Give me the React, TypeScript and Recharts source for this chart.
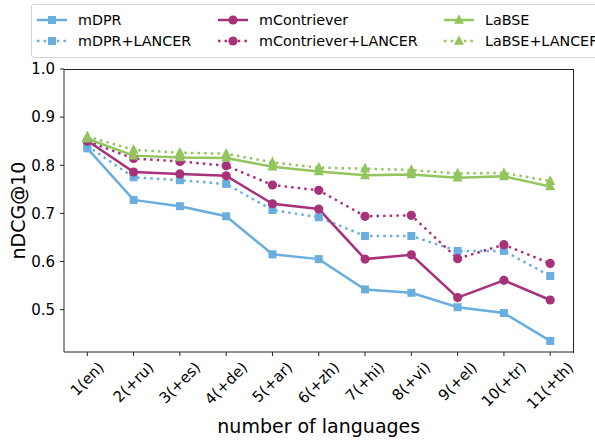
import React from 'react'
import { LineChart, Line, XAxis, YAxis } from 'recharts'

const categories = ['1(en)', '2(+ru)', '3(+es)', '4(+de)', '5(+ar)', '6(+zh)', '7(+hi)', '8(+vi)', '9(+el)', '10(+tr)', '11(+th)']

const mDPR = [0.835, 0.728, 0.715, 0.694, 0.615, 0.605, 0.542, 0.535, 0.505, 0.493, 0.435]
const mDPRLancer = [0.84, 0.775, 0.769, 0.761, 0.707, 0.692, 0.653, 0.653, 0.622, 0.622, 0.57]
const mContriever = [0.851, 0.786, 0.782, 0.778, 0.72, 0.709, 0.605, 0.614, 0.525, 0.561, 0.52]
const mContrieverLancer = [0.85, 0.814, 0.808, 0.799, 0.759, 0.748, 0.694, 0.696, 0.606, 0.635, 0.596]
const labse = [0.855, 0.82, 0.816, 0.815, 0.797, 0.787, 0.779, 0.781, 0.774, 0.777, 0.756]
const labseLancer = [0.86, 0.832, 0.826, 0.824, 0.806, 0.795, 0.793, 0.79, 0.783, 0.784, 0.767]

const yTicks = [0.5, 0.6, 0.7, 0.8, 0.9, 1.0]

const BLUE = '#6aaee0'
const PURPLE = '#a8327a'
const GREEN = '#93c55f'
const FONT = 'DejaVu Sans'

const CHART_W = 595
const CHART_H = 442
const MARGIN = { top: 69, right: 21.5, bottom: 0, left: 0 }
const Y_AXIS_W = 64
const X_AXIS_H = 90

const rows = categories.map((cat, i) => ({
  cat,
  mDPR: mDPR[i],
  mDPRLancer: mDPRLancer[i],
  mContriever: mContriever[i],
  mContrieverLancer: mContrieverLancer[i],
  labse: labse[i],
  labseLancer: labseLancer[i]
}))

// rough DejaVu Sans advance widths, used to centre the rotated tick labels
const charW: Record<string, number> = {
  '(': 0.39, ')': 0.39, '+': 0.838, e: 0.615, n: 0.634, r: 0.411, u: 0.634, s: 0.521,
  d: 0.635, a: 0.613, z: 0.525, h: 0.634, i: 0.278, v: 0.592, l: 0.278, t: 0.392
}
const textWidth = (s: string, size: number) =>
  s.split('').reduce((sum, c) => sum + (charW[c] ?? 0.636), 0) * size

function Marker({ shape, cx, cy, fill }: { shape: string; cx: number; cy: number; fill: string }) {
  if (shape === 'square') return <rect x={cx - 4} y={cy - 4} width={8} height={8} fill={fill} />
  if (shape === 'circle') return <circle cx={cx} cy={cy} r={4.6} fill={fill} />
  return <polygon points={`${cx},${cy - 5.8} ${cx - 5},${cy + 3.8} ${cx + 5},${cy + 3.8}`} fill={fill} />
}

const series = [
  { key: 'mDPR', name: 'mDPR', color: BLUE, shape: 'square', dotted: false },
  { key: 'mDPRLancer', name: 'mDPR+LANCER', color: BLUE, shape: 'square', dotted: true },
  { key: 'mContriever', name: 'mContriever', color: PURPLE, shape: 'circle', dotted: false },
  { key: 'mContrieverLancer', name: 'mContriever+LANCER', color: PURPLE, shape: 'circle', dotted: true },
  { key: 'labse', name: 'LaBSE', color: GREEN, shape: 'triangle', dotted: false },
  { key: 'labseLancer', name: 'LaBSE+LANCER', color: GREEN, shape: 'triangle', dotted: true }
]

function XTick(props: any) {
  const { x, y, payload } = props
  const size = 15
  const w = textWidth(payload.value, size)
  const half = ((w + size * 1.1) * 0.7071) / 2
  return (
    <g transform={`translate(${x},${y + 3 + half}) rotate(-45)`}>
      <text textAnchor='middle' dominantBaseline='central' fontSize={size} fontFamily={FONT} fill='#000'>
        {payload.value}
      </text>
    </g>
  )
}

function XLabel(props: any) {
  const { viewBox } = props
  return (
    <text x={viewBox.x + viewBox.width / 2} y={433} textAnchor='middle' fontSize={19} fontFamily={FONT} fill='#000'>
      number of languages
    </text>
  )
}

function YLabel(props: any) {
  const { viewBox } = props
  const cy = viewBox.y + viewBox.height / 2
  return (
    <text x={25} y={cy} transform={`rotate(-90, 25, ${cy})`} textAnchor='middle' fontSize={19} fontFamily={FONT} fill='#000'>
      nDCG@10
    </text>
  )
}

function LegendBox() {
  const boxLeft = 31
  const cols = [37, 218, 444]
  const rowsY = [18.5, 39.5]
  return (
    <div
      style={{
        position: 'absolute', left: boxLeft, top: 4, width: 580, height: 52,
        border: '1px solid #d4d4d4', borderRadius: 3, background: '#fff'
      }}
    >
      {series.map((s, i) => {
        const col = Math.floor(i / 2)
        const row = i % 2
        const left = cols[col] - boxLeft - 1
        const top = rowsY[row] - 4 - 10
        return (
          <div key={s.key} style={{ position: 'absolute', left, top, height: 20, display: 'flex', alignItems: 'center' }}>
            <svg width={30} height={20}>
              <line x1={0} y1={10} x2={30} y2={10} stroke={s.color} strokeWidth={2.5} strokeDasharray={s.dotted ? '2.5 4.1' : undefined} />
              <Marker shape={s.shape} cx={15} cy={10} fill={s.color} />
            </svg>
            <span style={{ marginLeft: 11, fontSize: 14.3, fontFamily: FONT, color: '#000', whiteSpace: 'nowrap' }}>{s.name}</span>
          </div>
        )
      })}
    </div>
  )
}

export default function App() {
  // top and right spines round the plot area
  const fx = MARGIN.left + Y_AXIS_W
  const fy = MARGIN.top
  const fw = CHART_W - MARGIN.right - MARGIN.left - Y_AXIS_W
  const fh = CHART_H - MARGIN.top - X_AXIS_H
  return (
    <div style={{ position: 'absolute', left: 0, top: 0, width: CHART_W, height: CHART_H, overflow: 'hidden', background: '#fff' }}>
      <LineChart width={CHART_W} height={CHART_H} data={rows} margin={MARGIN}>
        <XAxis
          dataKey='cat'
          height={X_AXIS_H}
          interval={0}
          padding={{ left: 23.3, right: 23.3 }}
          tickSize={4}
          tickMargin={0}
          tick={<XTick />}
          stroke='#222'
          label={<XLabel />}
        />
        <YAxis
          type='number'
          domain={[0.412, 1.0]}
          ticks={yTicks}
          allowDataOverflow
          width={Y_AXIS_W}
          tickSize={4}
          tickMargin={5}
          tickFormatter={(v: number) => v.toFixed(1)}
          tick={{ fontSize: 15, fontFamily: FONT, fill: '#000' }}
          stroke='#222'
          label={<YLabel />}
        />
        {series.map((s) => (
          <Line
            key={s.key}
            dataKey={s.key}
            name={s.name}
            stroke={s.color}
            strokeWidth={2.5}
            strokeDasharray={s.dotted ? '2.5 4.1' : undefined}
            type='linear'
            isAnimationActive={false}
            dot={(p: any) => <Marker key={`${s.key}-${p.index}`} shape={s.shape} cx={p.cx} cy={p.cy} fill={s.color} />}
            activeDot={false}
          />
        ))}
      </LineChart>
      <div style={{ position: 'absolute', left: fx, top: fy - 0.5, width: fw, height: 1, background: '#222' }} />
      <div style={{ position: 'absolute', left: fx + fw - 1, top: fy - 0.5, width: 1.2, height: fh + 1, background: '#222' }} />
      <LegendBox />
    </div>
  )
}
